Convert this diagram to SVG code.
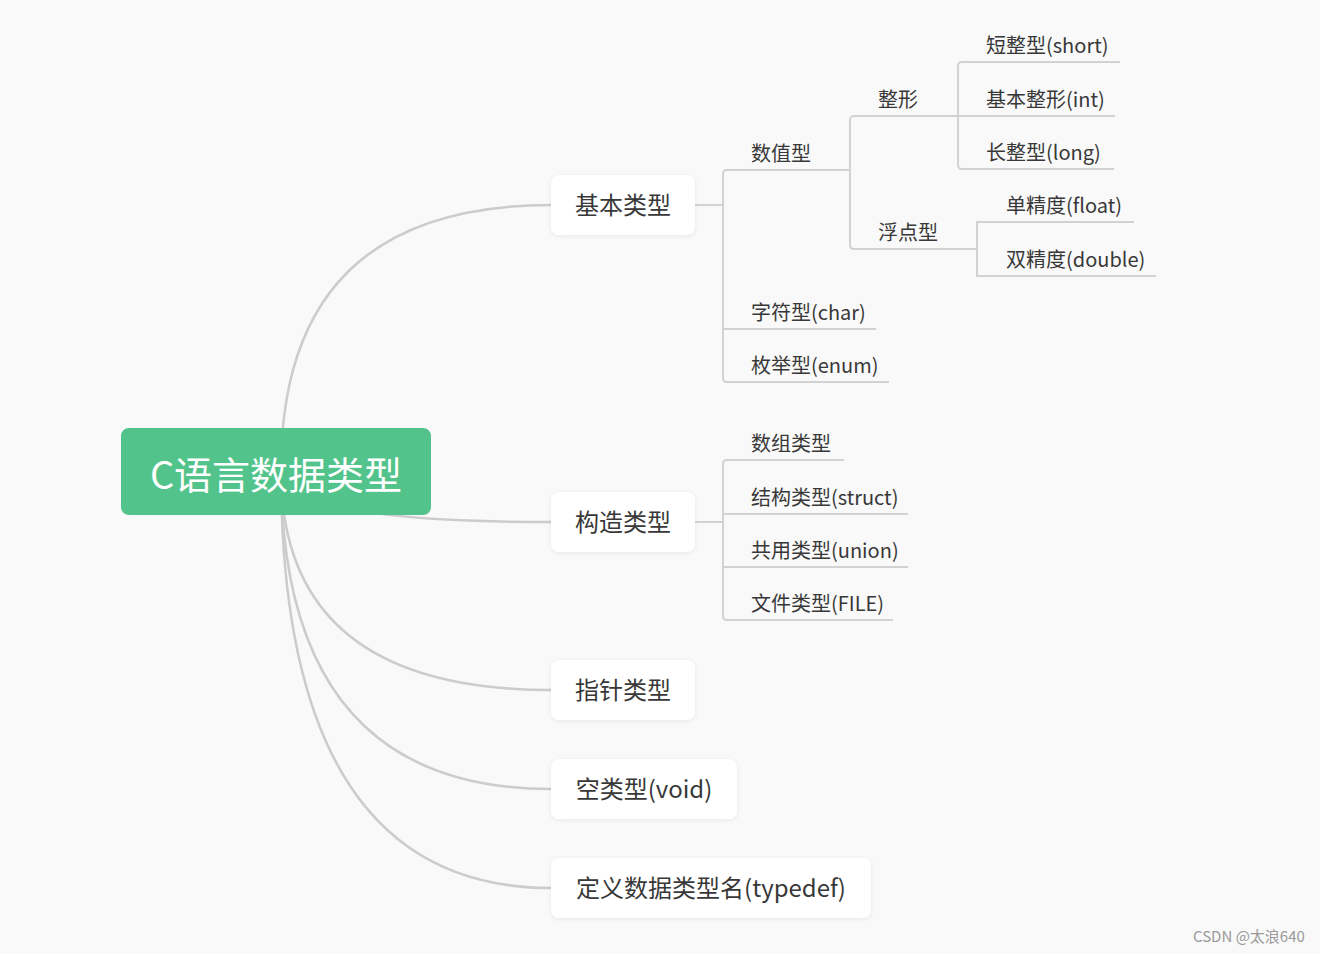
<svg xmlns="http://www.w3.org/2000/svg" width="1320" height="954" viewBox="0 0 1320 954">
<defs>
<filter id="sh" x="-20%" y="-30%" width="140%" height="160%">
<feDropShadow dx="0" dy="1" stdDeviation="2" flood-color="#000" flood-opacity="0.08"/>
</filter>
<style>
.bg{fill:#f9f9f9}
.curve{fill:none;stroke:#cccccc;stroke-width:2.5}
.tree{fill:none;stroke:#d2d2d2;stroke-width:2}
.box{fill:#ffffff;filter:url(#sh)}
.t1{font-family:"Noto Sans CJK SC","Noto Sans",sans-serif;font-size:24px;fill:#383838}
.t2{font-family:"Noto Sans CJK SC","Noto Sans",sans-serif;font-size:20px;fill:#383838}
.root{font-family:"Noto Sans CJK SC","Noto Sans",sans-serif;font-size:38px;fill:#ffffff}
.wm{font-family:"Noto Sans CJK SC","Noto Sans",sans-serif;font-size:15px;fill:#9a9a9a}
</style>
</defs>
<rect class="bg" x="0" y="0" width="1320" height="954"/>
<g id="connectors">
<path class="curve" d="M281,470 Q281,205 551,205"/>
<path class="curve" d="M281,470 Q281,522 551,522"/>
<path class="curve" d="M281,470 Q281,690 551,690"/>
<path class="curve" d="M281,470 Q281,789 551,789"/>
<path class="curve" d="M281,470 Q281,888 551,888"/>
<path class="tree" d="M695,205 H723"/>
<path class="tree" d="M850,170 H727 Q723,170 723,174 V378 Q723,382 727,382 H889"/>
<path class="tree" d="M723,329 H876"/>
<path class="tree" d="M958,116 H854 Q850,116 850,120 V245 Q850,249 854,249 H977"/>
<path class="tree" d="M958,116 H1115"/>
<path class="tree" d="M1120,62 H962 Q958,62 958,66 V165 Q958,169 962,169 H1114"/>
<path class="tree" d="M1134,222 H977 V276 H1156"/>
<path class="tree" d="M695,522 H723"/>
<path class="tree" d="M844,460 H727 Q723,460 723,464 V616 Q723,620 727,620 H893"/>
<path class="tree" d="M723,514 H908"/>
<path class="tree" d="M723,567 H908"/>
</g>
<g id="root">
<rect x="121" y="428" width="310" height="87" rx="8" fill="#52c48b"/>
<text class="root" x="276" y="489" text-anchor="middle">C语言数据类型</text>
</g>
<g id="n-basic">
<rect class="box" x="551" y="175" width="144" height="60" rx="8"/>
<text class="t1" x="623" y="214" text-anchor="middle">基本类型</text>
</g>
<g id="n-struct">
<rect class="box" x="551" y="492" width="144" height="60" rx="8"/>
<text class="t1" x="623" y="531" text-anchor="middle">构造类型</text>
</g>
<g id="n-pointer">
<rect class="box" x="551" y="660" width="144" height="60" rx="8"/>
<text class="t1" x="623" y="699" text-anchor="middle">指针类型</text>
</g>
<g id="n-void">
<rect class="box" x="551" y="759" width="186" height="60" rx="8"/>
<text class="t1" x="644" y="798" text-anchor="middle">空类型(void)</text>
</g>
<g id="n-typedef">
<rect class="box" x="551" y="858" width="320" height="60" rx="8"/>
<text class="t1" x="711" y="897" text-anchor="middle">定义数据类型名(typedef)</text>
</g>
<g id="n-numeric"><text class="t2" x="751" y="161">数值型</text></g>
<g id="n-int-group"><text class="t2" x="878" y="107">整形</text></g>
<g id="n-short"><text class="t2" x="986" y="53">短整型(short)</text></g>
<g id="n-int"><text class="t2" x="986" y="107">基本整形(int)</text></g>
<g id="n-long"><text class="t2" x="986" y="160">长整型(long)</text></g>
<g id="n-float-group"><text class="t2" x="878" y="240">浮点型</text></g>
<g id="n-float"><text class="t2" x="1006" y="213">单精度(float)</text></g>
<g id="n-double"><text class="t2" x="1006" y="267">双精度(double)</text></g>
<g id="n-char"><text class="t2" x="751" y="320">字符型(char)</text></g>
<g id="n-enum"><text class="t2" x="751" y="373">枚举型(enum)</text></g>
<g id="n-array"><text class="t2" x="751" y="451">数组类型</text></g>
<g id="n-structt"><text class="t2" x="751" y="505">结构类型(struct)</text></g>
<g id="n-union"><text class="t2" x="751" y="558">共用类型(union)</text></g>
<g id="n-file"><text class="t2" x="751" y="611">文件类型(FILE)</text></g>
<text class="wm" x="1193" y="942">CSDN @太浪640</text>
</svg>
